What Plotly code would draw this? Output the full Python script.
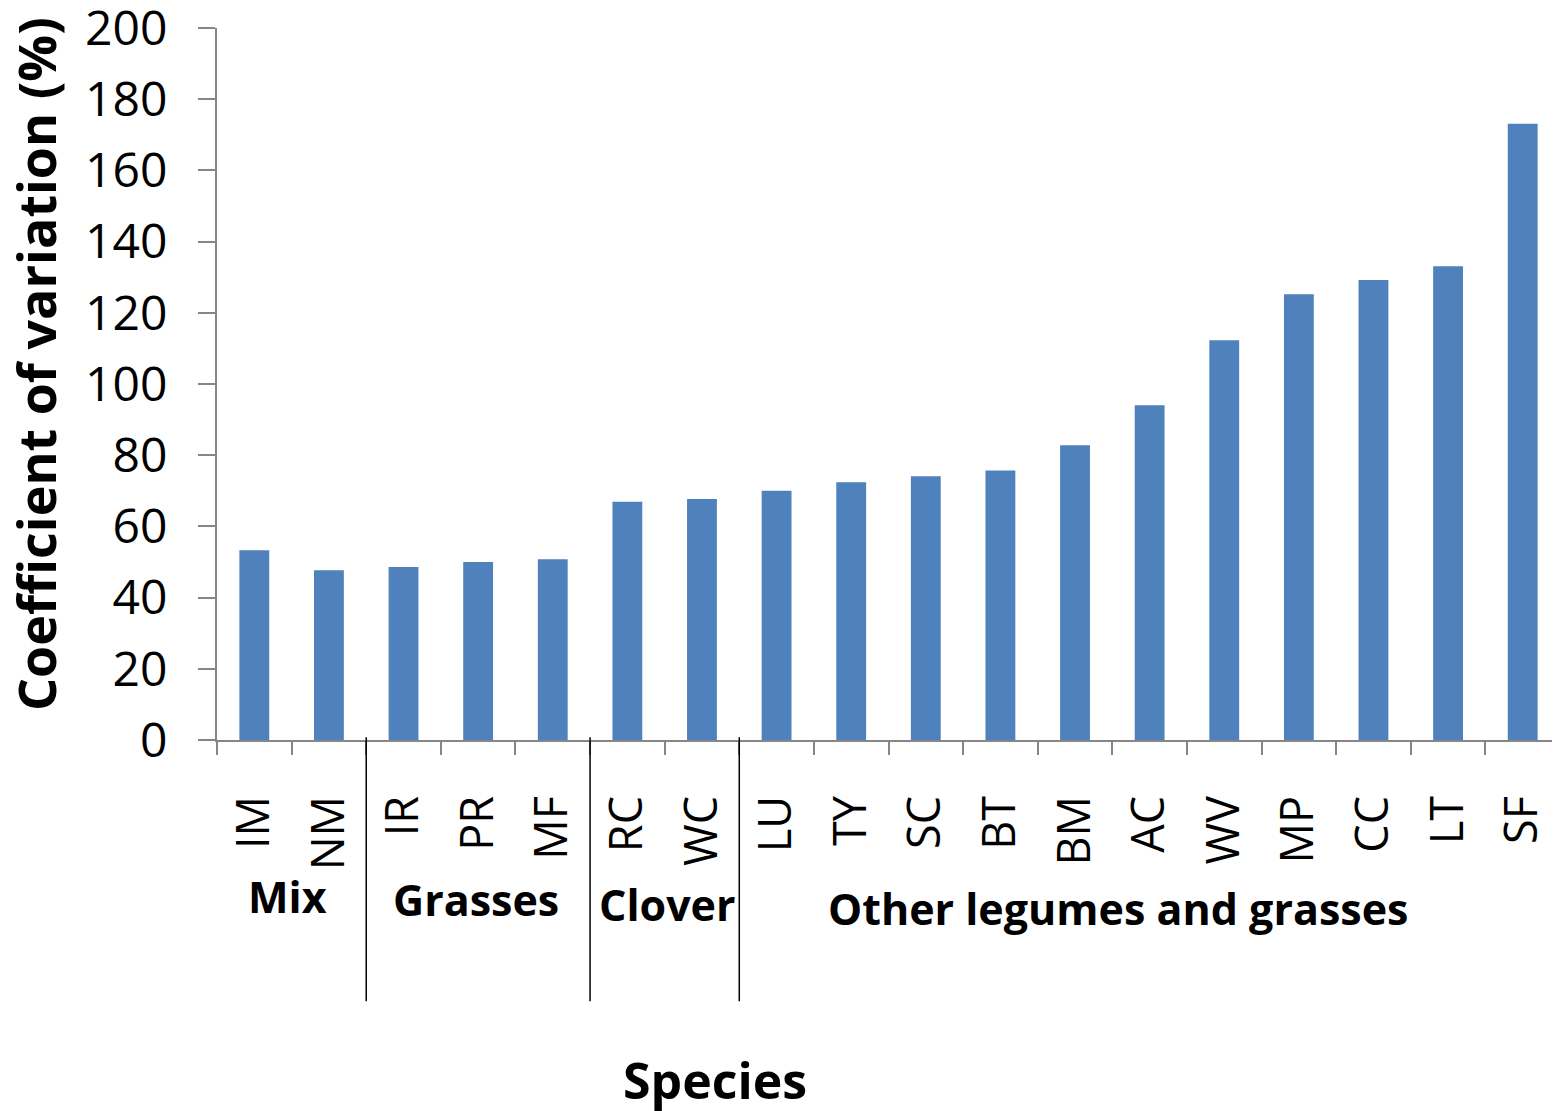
import plotly.graph_objects as go

species = ["IM", "NM", "IR", "PR", "MF", "RC", "WC", "LU", "TY", "SC", "BT",
           "BM", "AC", "WV", "MP", "CC", "LT", "SF"]
cv = [53.3, 47.7, 48.6, 50.0, 50.8, 66.9, 67.7, 70.0, 72.4, 74.1, 75.7,
      82.8, 94.0, 112.3, 125.2, 129.2, 133.1, 173.1]
groups = ["Mix", "Grasses", "Clover", "Other legumes and grasses"]
group_sizes = [2, 3, 2, 11]

FONT = "Open Sans"
fig = go.Figure(go.Bar(x=species, y=cv, marker_color="#4F81BD",
                       marker_line_width=0, width=0.4))

shapes = []
annotations = []
start = 0
label_y = [-0.22, -0.224, -0.231, -0.237]
label_shift = [-4, -2, 3, -32]
for i, (g, n) in enumerate(zip(groups, group_sizes)):
    center = start + (n - 1) / 2
    annotations.append(dict(x=center, y=label_y[i], xref="x", yref="paper",
                            xanchor="center", yanchor="middle",
                            text=g, showarrow=False, xshift=label_shift[i],
                            font=dict(family=FONT, size=43, color="black", weight="bold")))
    if i < len(groups) - 1:
        b = start + n - 0.5
        shapes.append(dict(type="line", xref="x", yref="paper", x0=b, x1=b,
                           y0=0.004, y1=-0.367, line=dict(color="black", width=1.5)))
    start += n

annotations.append(dict(x=0.371, y=-0.478, xref="paper", yref="paper", text="Species",
                        xanchor="center", yanchor="middle", showarrow=False,
                        font=dict(family=FONT, size=50, color="black", weight="bold")))
annotations.append(dict(x=-0.1355, y=0.528, xref="paper", yref="paper",
                        xanchor="center", yanchor="middle",
                        text="Coefficient of variation (%)", textangle=-90,
                        showarrow=False,
                        font=dict(family=FONT, size=52, color="black", weight="bold")))

# page body has an 8px margin, so the figure is sized/offset to compensate
fig.update_layout(
    width=1552, height=1103,
    margin=dict(l=209, r=0, t=20, b=371, autoexpand=False),
    paper_bgcolor="white", plot_bgcolor="white",
    showlegend=False,
    shapes=shapes, annotations=annotations,
    font=dict(family=FONT, color="black"),
)
fig.update_xaxes(type="category", showline=True, linecolor="#868686", linewidth=2,
                 ticks="outside", tickson="boundaries", ticklen=13, tickwidth=2,
                 tickcolor="#868686", tickangle=-90, ticklabelstandoff=36,
                 tickfont=dict(family=FONT, size=45, color="black"),
                 showgrid=False, zeroline=False, automargin=False)
fig.update_yaxes(range=[0, 200], dtick=20, showline=True, linecolor="#868686",
                 linewidth=2, ticks="outside", ticklen=17, tickwidth=2,
                 tickcolor="#868686", ticklabelstandoff=21,
                 ticklabeloverflow="allow",
                 tickfont=dict(family=FONT, size=48, color="black"),
                 showgrid=False, zeroline=False, automargin=False)

fig.write_html("out.html")
